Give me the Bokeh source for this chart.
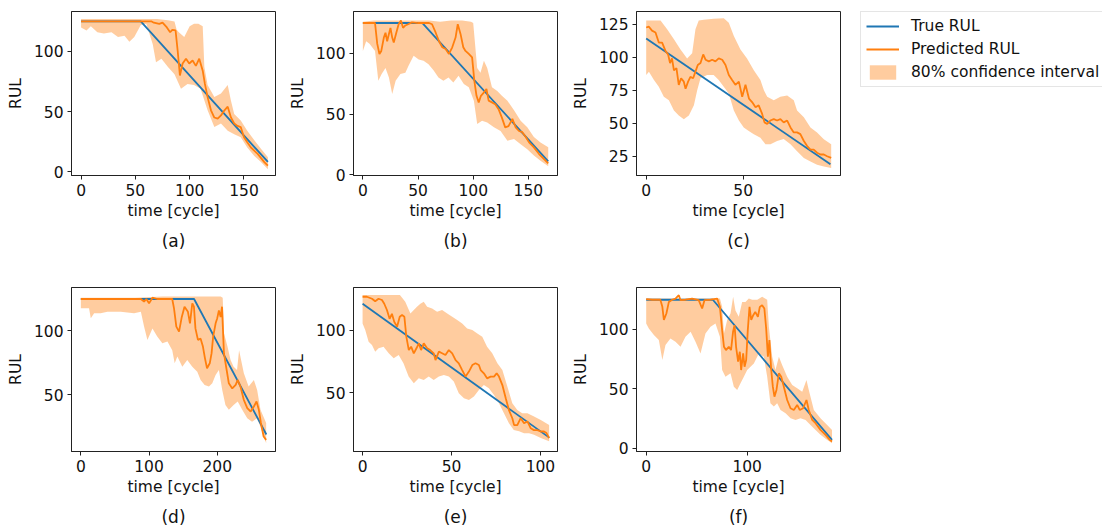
from bokeh.plotting import figure
from bokeh.layouts import row, column
from bokeh.models import Range1d, FixedTicker, Title, Legend, LegendItem
from bokeh.embed import file_html
from bokeh.resources import INLINE

# ---------------- data ----------------
# (a)
a_true_t = [0, 55, 172]
a_true = [125, 125, 8]
a_pred_t = [0, 10, 20, 30, 40, 50, 60, 65, 67, 72, 75, 79, 82, 84, 87, 89, 91, 93.5, 96.6, 99.6, 102.7, 105.7, 108.8, 112, 114, 116.5, 119.6, 122.7, 125.8, 128.8, 132, 135, 138, 141, 144, 147, 150, 153, 156.4, 162.6, 168.7, 172]
a_pred = [125, 125, 125, 125, 125, 125, 125, 125, 124, 123, 124, 120, 116, 118, 117.5, 100, 80, 90, 94, 90, 92.5, 88, 94, 84, 73, 62, 51, 45, 44, 46.7, 51, 54, 45, 40, 38, 37, 28.6, 24.4, 20, 14.7, 7.8, 5]
a_up_t = [0, 20, 40, 60, 70, 80, 86, 88, 90, 95, 100, 104, 108, 112, 113.5, 116.5, 122.7, 128.8, 135, 138, 141, 147, 153, 159.5, 165.6, 172]
a_up = [127, 127, 127, 127, 127, 126, 125, 118, 116, 112, 121, 123, 123, 121, 87, 72, 62, 65, 72, 59, 48, 42.5, 34, 26, 19, 12]
a_lo_t = [0, 5, 9, 15, 21, 28, 34, 40, 44.5, 49, 52, 55, 60, 66, 69, 74, 80, 86, 92, 98, 104, 110, 116.5, 122.7, 128.8, 135, 141, 147, 153, 159.5, 165.6, 172]
a_lo = [120, 117.5, 121, 116, 115, 116, 112, 113, 108, 112, 117, 122, 123, 106, 91, 94, 87, 81, 69, 73, 72, 69, 51, 37, 40, 34, 31, 28.6, 20, 13, 8, 2]

# (b)
b_true_t = [0, 54, 168]
b_true = [125, 125, 11]
b_pred_t = [0, 5, 11, 13, 15, 16.7, 19, 20.5, 22, 23.6, 25, 26.6, 28, 30, 32.4, 34.5, 36.4, 38.5, 41, 44.5, 50, 56, 60, 62.7, 66, 69, 72, 75, 78, 81, 84, 86, 88.5, 91, 93, 96, 99, 101, 103, 105, 107, 110, 112, 114, 117, 120, 123, 126, 129, 132, 135.5, 138.5, 141.5, 144.5, 147.6, 150.6, 155, 159.7, 164, 168]
b_pred = [125, 125, 125, 108, 99.5, 102, 113, 117, 110, 116, 121, 113, 109, 116, 124, 127, 121, 123, 124, 125.5, 125, 125, 125, 124, 117, 110, 105, 103.6, 99.5, 105, 113, 124, 116, 105, 102, 99.5, 96.7, 77.5, 65, 59.6, 65, 68, 70.6, 61, 59.6, 58, 54, 47, 39, 40, 46, 39, 36, 35, 31, 26.6, 22.5, 17, 13, 9.3]
b_up_t = [0, 10, 20, 30, 40, 50, 60, 70, 80, 90, 98, 100, 103.6, 106.6, 109.7, 112.7, 117, 121.8, 126, 131, 137, 143, 149, 155, 161, 168]
b_up = [126, 127, 127, 127, 127, 127, 127, 126, 127, 127, 126, 125, 88, 84, 94, 88, 72, 69, 65, 61, 53, 44.5, 39, 31, 26.6, 22.5]
b_lo_t = [0, 3, 6, 11, 14, 17, 20.5, 23.6, 26.6, 29.7, 34, 38.5, 41.5, 46, 50.6, 55, 59.5, 64, 68.5, 73, 77.6, 82, 86.7, 91.5, 96, 100.6, 103.6, 108, 112.7, 118.8, 124.8, 131, 137, 143, 149, 155, 161, 168]
b_lo = [102, 110, 108, 102, 77.5, 83, 88, 80, 66.5, 77.5, 83, 84, 90, 98, 95, 94, 91, 86, 80, 77.5, 80, 76, 81.6, 74.7, 72, 61, 41.8, 44.5, 43, 39, 36, 28, 29.4, 25, 21, 15.7, 11.5, 7]

# (c)
c_true_t = [0, 95]
c_true = [114, 19]
c_pred_t = [0, 1.4, 3, 4.8, 6.5, 8.2, 10, 11.3, 12.3, 13.3, 14.3, 15.6, 16.8, 18, 19.4, 20.3, 21.6, 22.8, 24.2, 25.4, 26.6, 28, 29.4, 30.6, 32.3, 34, 35.7, 37.4, 39.2, 40.9, 42.6, 44.3, 46, 47.8, 49.5, 51.2, 53, 54.6, 56.4, 58, 59.8, 61, 62.4, 64, 65.8, 67.5, 69.2, 70.9, 72.7, 74.4, 76.1, 77.8, 79.5, 81.3, 83, 84.7, 86.4, 88.1, 89.9, 91.6, 93.3, 95.4]
c_pred = [122.4, 123, 120, 118.6, 111, 111, 104.5, 102, 95.5, 99, 90, 91.7, 79, 84, 81.4, 76, 81.4, 85, 84, 89, 94, 95.5, 102, 98, 96.8, 98, 96.8, 99, 98, 94, 86.5, 82.7, 79, 81.4, 70, 79, 68.6, 66, 62, 63.5, 57, 50.6, 49.4, 52, 53, 52, 53, 50.6, 52, 46.8, 43, 43, 41.7, 36.5, 32.7, 30, 30, 27.6, 26.3, 26.3, 25, 23.7]
c_up_t = [0, 7.4, 10.8, 14.3, 17.7, 21.1, 23.7, 25.4, 27.1, 29.7, 34.8, 40, 42.6, 45.2, 48.6, 52, 55.5, 58.9, 60.7, 62.4, 65.8, 69.2, 72.7, 76.1, 77.8, 81.3, 84.7, 88.1, 91.6, 95.4]
c_up = [127.6, 127.6, 121, 113.5, 105.8, 99, 103, 121, 127.6, 128.3, 129, 129.4, 126, 116, 105.8, 99, 90, 82.7, 75, 70, 67.3, 70, 71, 67.3, 59.6, 54.5, 46.8, 43, 37.8, 34]
c_lo_t = [0, 1.4, 4, 6.5, 9.1, 11.7, 14.3, 16.8, 19.4, 22, 24.6, 26.3, 28, 31.4, 34.8, 37.4, 40, 42.6, 45.2, 47.8, 50.3, 52.9, 55.5, 58.9, 61.5, 64.1, 67.5, 70.9, 74.4, 77.8, 81.3, 84.7, 88.1, 91.6, 95.4]
c_lo = [86.5, 89, 82.7, 77.5, 70, 67.3, 59.6, 55.8, 53, 55.8, 63.5, 75, 84, 86.5, 86.5, 82.7, 77.5, 72.4, 59.6, 52, 46.8, 44, 41.7, 39, 34, 34, 36.5, 38, 34, 28.8, 23.7, 21, 18.6, 17.3, 16]

# (d)
d_true_t = [0, 166, 272]
d_true = [125, 125, 19]
d_pred_t = [0, 20, 40, 60, 80, 88, 92.7, 96, 100, 105, 112, 120, 128, 134, 136.6, 140, 144, 148, 152, 157, 160, 163.4, 165.8, 168, 171.7, 175.6, 179, 182, 185, 189, 191.7, 194, 197.6, 200, 202.4, 205, 207, 209.8, 213, 217, 222, 227, 230, 234, 239, 244, 249, 253.7, 257.6, 261, 264, 268, 271.7]
d_pred = [125, 125, 125, 125, 125, 125, 123, 125, 121.6, 126, 125, 125, 125, 125, 117.7, 103.4, 99.5, 111, 119, 115, 106, 121.6, 119, 102, 93, 94, 87.8, 78.6, 70.8, 74.7, 82.6, 95.6, 106, 110, 116, 111, 119, 82.6, 72, 59, 55, 57.8, 61.7, 56.5, 46, 39.6, 37, 40.9, 44.8, 38.3, 28, 17.4, 14.8]
d_up_t = [0, 40, 80, 120, 134, 150, 165, 180, 195, 205, 208, 210, 215, 219.5, 224, 229, 232, 239, 246, 253.7, 258.5, 263.4, 271.7]
d_up = [126, 126, 126, 127, 127, 127, 127, 127, 127, 127, 126, 98, 87.8, 77.3, 72, 69.5, 85, 67, 56.5, 61.7, 53.9, 38.3, 28]
d_lo_t = [0, 12, 14.6, 19.5, 29, 39, 58.5, 78, 88, 92.7, 97.6, 105, 112, 119.5, 127, 134, 137.6, 141.5, 148.8, 156, 163.4, 170.7, 175.6, 181.5, 187.8, 192.7, 197.6, 202.4, 207.3, 212, 217, 224, 230, 236.6, 244, 251, 258.5, 264, 271.7]
d_lo = [117.7, 117.7, 110, 113.8, 113.8, 115, 115, 113.8, 115, 103.4, 93, 102, 95.6, 90.4, 91.7, 85, 74.7, 80, 72, 77.3, 72, 68, 61.7, 57.8, 56.5, 59, 65.6, 69.5, 53.9, 42, 38.3, 42, 44.8, 38.3, 31.8, 29, 31.8, 24, 12.2]

# (e)
e_true_t = [0, 105]
e_true = [121, 14]
e_pred_t = [0, 2.4, 5.3, 7.1, 9, 10.9, 12.2, 13.7, 15.2, 16.5, 17.8, 19.4, 20.9, 22.2, 23.5, 24.6, 26, 27.3, 28.8, 30.3, 31.6, 32.9, 34.4, 36.3, 38, 40, 41, 42.9, 44.7, 46.6, 48.5, 50.4, 52.3, 54.1, 56, 57.9, 59.8, 61.7, 63.5, 65.4, 66.4, 68.2, 70, 72, 73.9, 75.4, 76.7, 78.6, 80.5, 82.3, 84.2, 85.2, 87, 88.9, 90.8, 92.7, 94.5, 96.4, 98.3, 100.2, 102, 103.4, 104.9]
e_pred = [126.6, 126.6, 125, 123, 125, 124, 121, 116, 109, 113, 106.6, 102.7, 110.6, 112, 110.6, 94.7, 84, 86.7, 81.4, 85.4, 89.4, 84, 89.4, 85.4, 84, 81.4, 76, 82.7, 81.4, 80, 84, 81.4, 76, 73.4, 68, 62.8, 66.8, 72, 73.4, 72, 68, 65.4, 61.4, 62.8, 62.8, 65.4, 62.8, 56, 45.5, 36, 29.5, 24, 24, 29.5, 25.5, 26.9, 21.5, 20, 20, 18.9, 18.9, 17.6, 13.6]
e_up_t = [0, 10, 21, 24, 26.9, 28.8, 30.6, 32.5, 34.4, 36.3, 39.1, 41.9, 44.7, 47.6, 50.4, 53.2, 56, 58.8, 61.7, 64.5, 67.3, 70, 72.9, 75.8, 78.6, 81.4, 84.2, 87, 89.8, 92.7, 96.4, 100.2, 104.9]
e_up = [128, 128, 128, 122.6, 113.3, 116, 118.6, 121, 122.6, 118.6, 117.3, 114.6, 116, 113.3, 110.6, 108, 105.3, 101.3, 100, 97.3, 94.7, 86.7, 81.4, 73.4, 68, 54.8, 41.5, 36, 33.5, 33.5, 30.9, 28, 24]
e_lo_t = [0, 1.5, 3.4, 5.3, 7.1, 9, 11.8, 14.7, 17.5, 20.3, 23, 25.9, 28.8, 31.6, 34.4, 37.2, 40, 42.9, 45.7, 48.5, 51.3, 54.1, 57, 59.8, 62.6, 65.4, 68.2, 71, 73.9, 76.7, 79.5, 82.3, 85, 88, 90.8, 93.6, 96.4, 100.2, 104.9]
e_lo = [105.3, 100, 90.7, 88, 82.7, 85.4, 86.7, 81.4, 77.4, 80, 73.4, 62.8, 57.4, 61.4, 60, 62.8, 60, 62.8, 64, 62.8, 58.8, 49.5, 45.5, 44, 46.8, 52, 56, 53.5, 48, 41.5, 33.5, 25.5, 20, 19, 17.5, 17.5, 16.2, 13.6, 11]

# (f)
f_true_t = [0, 66, 184]
f_true = [125, 125, 7]
f_pred_t = [0, 6, 10, 14, 16, 17.5, 20, 22.4, 25.7, 29, 32.3, 34, 39, 45.5, 52, 55.4, 57.7, 63.7, 70.3, 73, 75.2, 77, 79, 81.8, 84, 86, 87.5, 89, 91, 92.7, 94, 96, 97.4, 99, 100.6, 102.3, 104, 106, 108, 110.6, 112.5, 114.8, 117, 118.8, 120.5, 122, 123.8, 125.4, 127, 129, 131.4, 133.7, 136.3, 139.6, 142.9, 146.2, 149.5, 152, 155.4, 158.7, 161, 164.4, 167.7, 172.6, 177.6, 181.8, 184]
f_pred = [125.5, 125, 125, 125, 119, 108, 113.4, 123, 125, 126, 128.8, 124.6, 125, 126, 124.6, 117.6, 124.6, 125, 126, 119, 99.4, 85.4, 82.6, 85.4, 82.6, 98, 103.6, 85.4, 72.8, 81.2, 65.8, 79.8, 68.6, 74.2, 99.4, 119, 108, 112, 114.8, 110.6, 119, 120.4, 117.6, 100.8, 77, 91, 65.8, 51.8, 43.4, 49, 63, 60.2, 51.8, 40.6, 33.6, 32.2, 36.4, 32.2, 33.6, 40.6, 32.2, 23.8, 21, 15.4, 11.2, 7, 5.6]
f_up_t = [0, 20, 40, 60, 73, 75.2, 77, 80.2, 83.5, 86.1, 88.4, 91.7, 95, 98.3, 101.6, 105, 110, 114.8, 119.8, 121.5, 124.8, 128, 131.4, 134.6, 139.6, 144.6, 149.5, 154.5, 158.7, 161, 166, 172.6, 179.2, 184]
f_up = [126, 126, 126, 126, 126, 119, 96.6, 108, 113.4, 127.5, 116, 110.6, 123, 123, 126, 125, 125, 127.5, 125, 102, 77, 65.8, 77, 70, 60.2, 53.2, 50.4, 47.6, 57.4, 49, 32.2, 25.2, 19.6, 15.4]
f_lo_t = [0, 2.6, 7.6, 12.5, 16, 19.1, 24, 29, 34, 38.9, 44, 48.8, 53.8, 58.7, 63.7, 68.6, 73, 75.2, 78.5, 83.5, 86.8, 90.1, 93.4, 96.7, 100, 103.3, 106.6, 111.5, 116.5, 119.8, 123, 126.4, 129.7, 133, 138, 143, 147.9, 152.8, 157.8, 162.7, 167.7, 172.6, 179, 184]
f_lo = [105, 100.8, 95.2, 91, 74.2, 86.8, 92.4, 89.6, 85.4, 93.8, 98, 89.6, 79.8, 96.6, 102.2, 105, 93.8, 65.8, 60.2, 63, 51.8, 49, 54.6, 60.2, 65.8, 68.6, 71.4, 79.8, 77, 60.2, 37.8, 35, 37.8, 32.2, 29.4, 25.2, 23.8, 25.2, 23.8, 19.6, 15.4, 11.2, 7, 4.2]

panel_labels = ["(a)", "(b)", "(c)", "(d)", "(e)", "(f)"]
x_ticks = [[0, 50, 100, 150], [0, 50, 100, 150], [0, 50], [0, 100, 200], [0, 50, 100], [0, 100]]
y_ticks = [[0, 50, 100], [0, 50, 100], [25, 50, 75, 100, 125], [50, 100], [50, 100], [0, 50, 100]]
x_ranges = [(-8.8, 179), (-8.5, 176.4), (-5, 100.2), (-13.7, 285.4), (-5.1, 109.6), (-9.6, 192.4)]
y_ranges = [(-3.3, 133.3), (-0.7, 134.5), (10.4, 134.5), (5.7, 134), (2.9, 134), (-2.8, 135.3)]

series_label_true = "True RUL"
series_label_pred = "Predicted RUL"
series_label_band = "80% confidence interval"
x_label = "time [cycle]"
y_label = "RUL"

# ---------------- styling ----------------
BLUE = "#1f77b4"
ORANGE = "#ff7f0e"
FONT = "DejaVu Sans"
FS = "15.5px"
NAN = float("nan")

panels = [
    (a_true_t, a_true, a_pred_t, a_pred, a_up_t, a_up, a_lo_t, a_lo),
    (b_true_t, b_true, b_pred_t, b_pred, b_up_t, b_up, b_lo_t, b_lo),
    (c_true_t, c_true, c_pred_t, c_pred, c_up_t, c_up, c_lo_t, c_lo),
    (d_true_t, d_true, d_pred_t, d_pred, d_up_t, d_up, d_lo_t, d_lo),
    (e_true_t, e_true, e_pred_t, e_pred, e_up_t, e_up, e_lo_t, e_lo),
    (f_true_t, f_true, f_pred_t, f_pred, f_up_t, f_up, f_lo_t, f_lo),
]


def make_panel(i):
    tt, tv, pt, pv, ut, uv, lt, lv = panels[i]
    col = i % 3
    rw = i // 3
    p = figure(
        title=None,
        frame_width=204, frame_height=164,
        min_border_left=72 if col == 2 else 71,
        min_border_right=7,
        min_border_top=11,
        min_border_bottom=101 if rw == 0 else 78,
        x_range=Range1d(*x_ranges[i]), y_range=Range1d(*y_ranges[i]),
        output_backend="svg", toolbar_location=None, tools="",
    )
    p.patch(x=list(ut) + list(lt)[::-1], y=list(uv) + list(lv)[::-1],
            fill_color=ORANGE, fill_alpha=0.4, line_color=None)
    p.line(tt, tv, line_color=BLUE, line_width=1.8)
    p.line(pt, pv, line_color=ORANGE, line_width=1.8)

    p.grid.visible = False
    p.outline_line_color = "#222222"
    p.outline_line_width = 1
    p.background_fill_color = "white"
    p.border_fill_color = "white"

    p.xaxis.ticker = FixedTicker(ticks=x_ticks[i])
    p.yaxis.ticker = FixedTicker(ticks=y_ticks[i])
    for ax in (p.xaxis[0], p.yaxis[0]):
        ax.axis_line_color = "#222222"
        ax.major_tick_line_color = "#222222"
        ax.major_tick_out = 4
        ax.major_tick_in = 0
        ax.minor_tick_out = 0
        ax.minor_tick_in = 0
        ax.major_label_text_font = FONT
        ax.major_label_text_font_size = FS
        ax.major_label_text_color = "#111111"
        ax.major_label_standoff = 4
        ax.axis_label_text_font = FONT
        ax.axis_label_text_font_size = FS
        ax.axis_label_text_font_style = "normal"
        ax.axis_label_text_color = "#111111"
    p.xaxis.axis_label = x_label
    p.xaxis.axis_label_standoff = 3
    p.yaxis.axis_label = y_label
    p.yaxis.axis_label_standoff = 6

    p.add_layout(Title(text=panel_labels[i], align="center", text_font=FONT,
                       text_font_size="17px", text_font_style="normal",
                       text_color="#111111", standoff=12), "below")
    return p


figs = [make_panel(i) for i in range(6)]

# legend panel
leg = figure(title=None, width=255, height=276, x_axis_location=None, y_axis_location=None,
             toolbar_location=None, tools="", output_backend="svg",
             min_border_left=13, min_border_right=0, min_border_top=0, min_border_bottom=0,
             x_range=Range1d(0, 1), y_range=Range1d(0, 1))
leg.outline_line_color = None
leg.grid.visible = False
r_true = leg.line(x=[NAN], y=[NAN], line_color=BLUE, line_width=1.8)
r_pred = leg.line(x=[NAN], y=[NAN], line_color=ORANGE, line_width=1.8)
r_band = leg.patch(x=[NAN], y=[NAN], fill_color=ORANGE, fill_alpha=0.4, line_color=None)
legend = Legend(
    items=[LegendItem(label=series_label_true, renderers=[r_true]),
           LegendItem(label=series_label_pred, renderers=[r_pred]),
           LegendItem(label=series_label_band, renderers=[r_band])],
    location="top_left", margin=0, padding=5, spacing=5,
    glyph_width=33, glyph_height=18, label_height=18, label_standoff=12,
    label_text_font=FONT, label_text_font_size=FS, label_text_color="#111111",
    border_line_color="#cccccc", border_line_width=1,
    background_fill_color="white", background_fill_alpha=1,
)
leg.add_layout(legend)

layout = column(row(figs[0], figs[1], figs[2], leg), row(figs[3], figs[4], figs[5]))

open("out.html", "w").write(file_html(layout, INLINE))
